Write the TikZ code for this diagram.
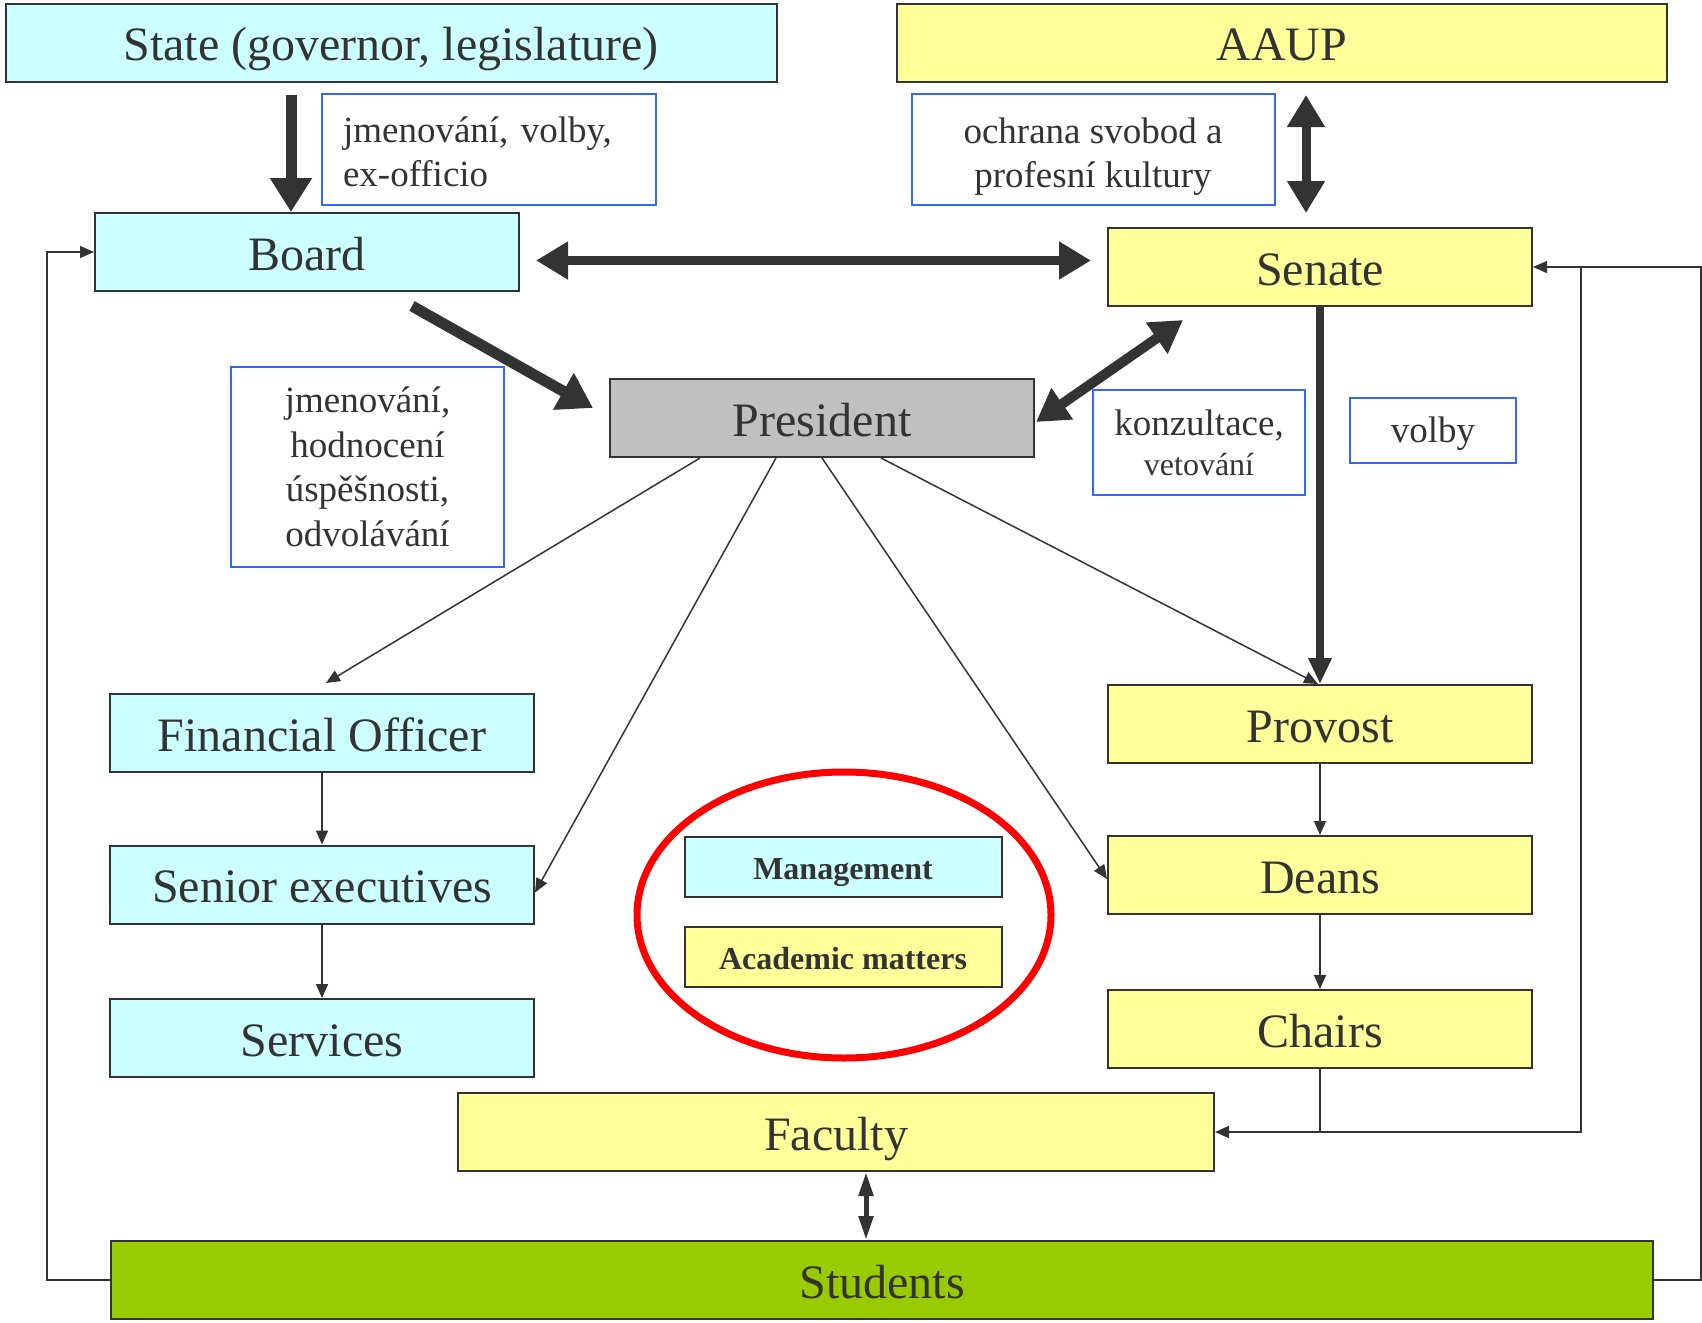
\documentclass[tikz,border=0pt]{standalone}
\usepackage{fontspec}
\setmainfont{Liberation Serif}
\usetikzlibrary{arrows.meta}
\frenchspacing
\definecolor{cyanfill}{HTML}{CCFFFF}
\definecolor{yellowfill}{HTML}{FFFF99}
\definecolor{grayfill}{HTML}{C0C0C0}
\definecolor{greenfill}{HTML}{99CC00}
\definecolor{boxline}{HTML}{333333}
\definecolor{noteblue}{HTML}{3366FF}
\definecolor{txt}{HTML}{333333}
\tikzset{
every picture/.style={
line width=2pt
},
box/.style={draw=boxline, text=txt, inner sep=0pt, minimum width=424pt, minimum height=78pt, text height=36pt, text depth=0pt, font=\fontsize{48}{56}\selectfont},
mgmt/.style={box, fill=cyanfill},
acad/.style={box, fill=yellowfill},
legend/.style={box, minimum width=317pt, minimum height=60pt, text height=25pt, font=\fontsize{32}{38}\selectfont\bfseries},
note/.style={draw=noteblue, fill=white, text=txt, inner sep=0pt, align=center, font=\fontsize{37}{44}\selectfont},
bigarrow/.style={draw=boxline, line width=11pt, -{Triangle[length=34pt,width=40pt]}},
bigboth/.style={draw=boxline, line width=9pt, {Triangle[length=32pt,width=36pt]}-{Triangle[length=32pt,width=36pt]}},
midboth/.style={draw=boxline, line width=5pt, {Triangle[length=24pt,width=14pt]}-{Triangle[length=24pt,width=14pt]}},
thin/.style={draw=boxline, line width=1.5pt, -{Triangle[length=14pt,width=12pt]}}
}

\begin{document}
\begin{tikzpicture}[x=1pt, y=-1pt]
\useasboundingbox (0,0) rectangle (1702,1322);

% top row
\node[mgmt, minimum width=771pt] (state) at (391,43) {State (governor, legislature)};
\node[acad, minimum width=770pt] (aaup) at (1282,43) {AAUP};

% management side
\node[mgmt] (board) at (307,252) {Board};
\node[box, fill=grayfill] (president) at (822,418) {President};
\node[mgmt] (fin) at (322,733) {Financial Officer};
\node[mgmt] (senior) at (322,884.5) {Senior executives};
\node[mgmt] (services) at (322,1038) {Services};

% academic side
\node[acad] (senate) at (1320,267) {Senate};
\node[acad] (provost) at (1320,724) {Provost};
\node[acad] (deans) at (1320,875) {Deans};
\node[acad] (chairs) at (1320,1029) {Chairs};
\node[acad, minimum width=756pt] (faculty) at (836,1132) {Faculty};
\node[box, fill=greenfill, minimum width=1542pt] (students) at (882,1280) {Students};

% legend
\node[legend, fill=cyanfill] (legmgmt) at (843,867) {Management};
\node[legend, fill=yellowfill] (legacad) at (843,957) {Academic matters};
\draw[red, line width=7pt] (844,915) ellipse (207 and 143);

% notes
\node[note, minimum width=334pt, minimum height=111pt, text width=292pt, align=left] (n1) at (489,149.5) {\rule{0pt}{29.5pt}jmenování, volby,\\ex-officio};
\node[note, minimum width=363pt, minimum height=111pt] (n2) at (1093,149.5) {\rule{0pt}{40pt}ochrana svobod a\\profesní kultury};
\node[note, minimum width=273pt, minimum height=200pt, font=\fontsize{37}{44.5}\selectfont] (n3) at (367.5,467) {jmenování,\\hodnocení\\úspěšnosti,\\odvolávání};
\node[note, minimum width=212pt, minimum height=105pt, font=\fontsize{37}{40}\selectfont] (n4) at (1199,442.5) {konzultace,\\{\fontsize{32}{38}\selectfont vetování}};
\node[note, minimum width=166pt, minimum height=65pt, text height=28pt, text depth=4pt] (n5) at (1433,430.5) {volby};

% thick connectors
\draw[bigarrow, shorten <=12pt] ([xshift=-16pt]board.north |- state.south) -- ([xshift=-16pt]board.north);
\draw[bigboth, shorten <=16pt, shorten >=16pt] ([yshift=-8.5pt]board.east) -- ([yshift=-8.5pt]board.east -| senate.west);
\draw[bigboth, shorten <=12pt, shorten >=14pt] ([xshift=-14pt]senate.north |- aaup.south) -- ([xshift=-14pt]senate.north);
\draw[bigarrow] ([xshift=105pt,yshift=-14pt]board.south) -- ([xshift=-16pt,yshift=10pt]president.west);
\draw[bigboth, line width=10pt] ([xshift=-137pt,yshift=-13pt]senate.south) -- ([xshift=1pt,yshift=-4pt]president.east);
\draw[bigarrow, line width=8pt, -{Triangle[length=26pt,width=22pt]}] (senate.south) -- (provost.north);
\draw[midboth] ([xshift=30pt]faculty.south) -- ([xshift=-16pt]students.north);

% president to the units below
\foreach \dx/\target/\sx/\sy in {-122/fin.north/4/10, -46/senior.east/0/-8, 0/deans.west/0/-4, 59/provost.north/-2/0}{
  \draw[thin] ([xshift=\dx pt]president.south) -- ([xshift=\sx pt, yshift=\sy pt]\target);
}

% chains
\draw[thin] (fin) -- (senior);
\draw[thin] (senior) -- (services);
\draw[thin] (provost) -- (deans);
\draw[thin] (deans) -- (chairs);

% feedback loops
\draw[thin] (students.west) -- ++(-63,0) |- (board.west);
\draw[thin] (students.east) -- ++(47,0) |- (senate.east);
\draw[thin] ([xshift=48pt]senate.east) |- (faculty.east);
\draw[line width=1.5pt, draw=boxline] (chairs.south) -- (chairs.south |- faculty.east);
\end{tikzpicture}
\end{document}
